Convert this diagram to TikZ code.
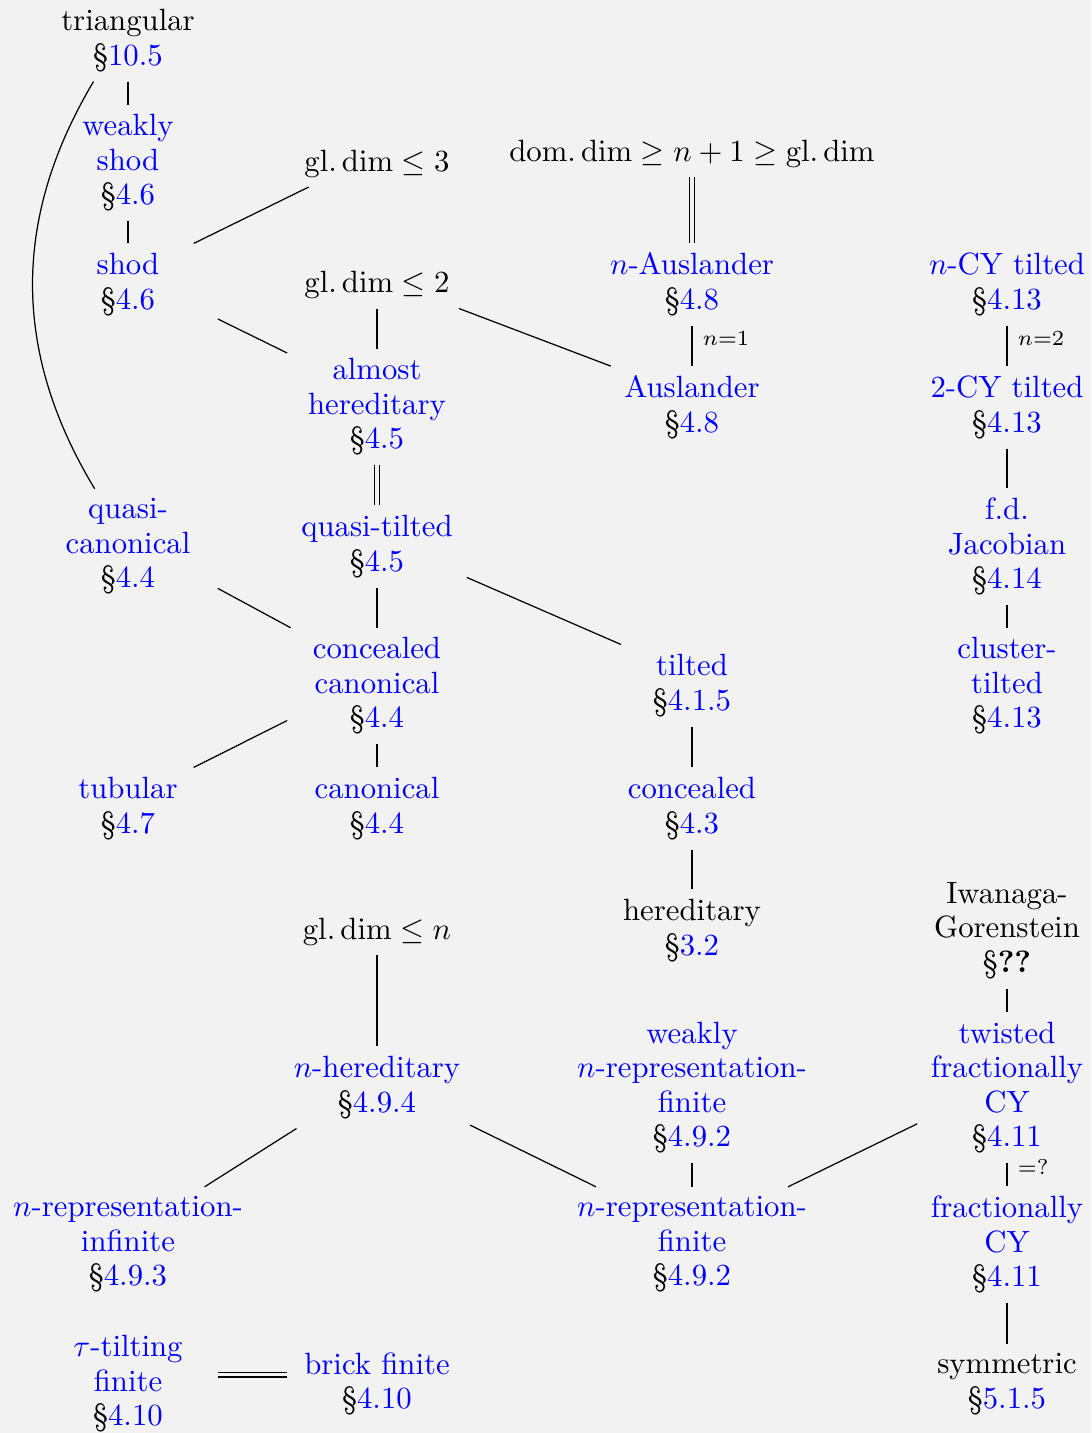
\documentclass[tikz,border=0pt]{standalone}
\usepackage{amsmath}

\definecolor{bg}{HTML}{F2F2F2}
\newcommand{\secno}[1]{\textcolor{black}{\S}\textcolor{blue}{#1}}

\begin{document}
\begin{tikzpicture}[x=0.3252pt, y=-0.3252pt,
		box/.style={align=center, minimum width=58pt, inner sep=3pt, font=\fontsize{10}{11.2}\selectfont},
		lnk/.style={box, text=blue},
		eqline/.style={double=bg, double distance=1.2pt},
		lbl/.style={midway, anchor=base west}]
		\fill[bg] (0,0) rectangle (1091,1433);
		\useasboundingbox (0,0) rectangle (1091,1433);

		\node[box] (tri) at (128,40.5) {triangular\\ \secno{10.5}};
		\node[lnk] (wshod) at (128,163) {weakly\\ shod\\ \secno{4.6}};
		\node[lnk] (shod) at (128,284.5) {shod\\ \secno{4.6}};
		\node[lnk] (qcan) at (128,546.5) {quasi-\\ canonical\\ \secno{4.4}};
		\node[lnk] (tub) at (128,808.5) {tubular\\ \secno{4.7}};
		\node[lnk] (nrinf) at (128,1244.5) {$n$-representation-\\ infinite\\ \secno{4.9.3}};
		\node[lnk] (ttf) at (128,1384) {$\tau$-tilting\\ finite\\ \secno{4.10}};

		\node[box] (gl3) at (377,163.5) {$\mathrm{gl.\,dim}\leq 3$};
		\node[box] (gl2) at (377,285) {$\mathrm{gl.\,dim}\leq 2$};
		\node[lnk] (almh) at (377,407) {almost\\ hereditary\\ \secno{4.5}};
		\node[lnk] (qtilt) at (377,546.5) {quasi-tilted\\ \secno{4.5}};
		\node[lnk] (ccan) at (377,686) {concealed\\ canonical\\ \secno{4.4}};
		\node[lnk] (can) at (377,808.5) {canonical\\ \secno{4.4}};
		\node[box] (gln) at (377,931.5) {$\mathrm{gl.\,dim}\leq n$};
		\node[lnk] (nher) at (377,1087.5) {$n$-hereditary\\ \secno{4.9.4}};
		\node[lnk] (brick) at (377,1384) {brick finite\\ \secno{4.10}};

		\node[box] (dom) at (692,154) {$\mathrm{dom.\,dim}\geq n+1\geq\mathrm{gl.\,dim}$};
		\node[lnk] (naus) at (692,284.5) {$n$-Auslander\\ \secno{4.8}};
		\node[lnk] (aus) at (692,407.5) {Auslander\\ \secno{4.8}};
		\node[lnk] (tilt) at (692,685.5) {tilted\\ \secno{4.1.5}};
		\node[lnk] (conc) at (692,808.5) {concealed\\ \secno{4.3}};
		\node[box] (her) at (692,930.5) {hereditary\\ \secno{3.2}};
		\node[lnk] (wnrf) at (692,1087.5) {weakly\\ $n$-representation-\\ finite\\ \secno{4.9.2}};
		\node[lnk] (nrf) at (692,1244.5) {$n$-representation-\\ finite\\ \secno{4.9.2}};

		\node[lnk] (ncy) at (1007,284.5) {$n$-CY tilted\\ \secno{4.13}};
		\node[lnk] (cy2) at (1007,407.5) {2-CY tilted\\ \secno{4.13}};
		\node[lnk] (fdj) at (1007,546.5) {f.d.\\ Jacobian\\ \secno{4.14}};
		\node[lnk] (clt) at (1007,686) {cluster-\\ tilted\\ \secno{4.13}};
		\node[box] (ig) at (1007,930.5) {Iwanaga-\\ Gorenstein\\ \S\textbf{??}};
		\node[lnk] (tfcy) at (1007,1087.5) {twisted\\ fractionally\\ CY\\ \secno{4.11}};
		\node[lnk] (fcy) at (1007,1244.5) {fractionally\\ CY\\ \secno{4.11}};
		\node[box] (sym) at (1007,1384) {symmetric\\ \secno{5.1.5}};

		% straight down
		\draw (tri) -- (wshod);
		\draw (wshod) -- (shod);
		\draw (gl2) -- (almh);
		\draw[eqline] (dom) -- (naus);
		\draw (naus) -- (aus) node[lbl] {$\scriptstyle n=1$};
		\draw (ncy) -- (cy2) node[lbl] {$\scriptstyle n=2$};
		\draw[eqline] (almh) -- (qtilt);
		\draw (cy2) -- (fdj);
		\draw (qtilt) -- (ccan);
		\draw (fdj) -- (clt);
		\draw (ccan) -- (can);
		\draw (tilt) -- (conc);
		\draw (conc) -- (her);
		\draw (gln) -- (nher);
		\draw (ig) -- (tfcy);
		\draw (wnrf) -- (nrf);
		\draw (tfcy) -- (fcy) node[lbl] {$\scriptstyle =?$};
		\draw (fcy) -- (sym);

		% slanted
		\draw (shod.32) -- (gl3.-161);
		\draw (shod.-21) -- (almh.149);
		\draw (gl2.-16) -- (aus.153);
		\draw (qcan.-25) -- (ccan.146);
		\draw (qtilt.-19) -- (tilt.150);
		\draw (ccan.-159) -- (tub.32);
		\draw (nher.-153) -- (nrinf.37);
		\draw (nher.-22) -- (nrf.149);
		\draw (tfcy.-158) -- (nrf.31);
		\draw[eqline] (ttf.6) -- (brick.174);
		\draw (tri.-130) to[bend right=31] (qcan.120);
	\end{tikzpicture}
\end{document}
